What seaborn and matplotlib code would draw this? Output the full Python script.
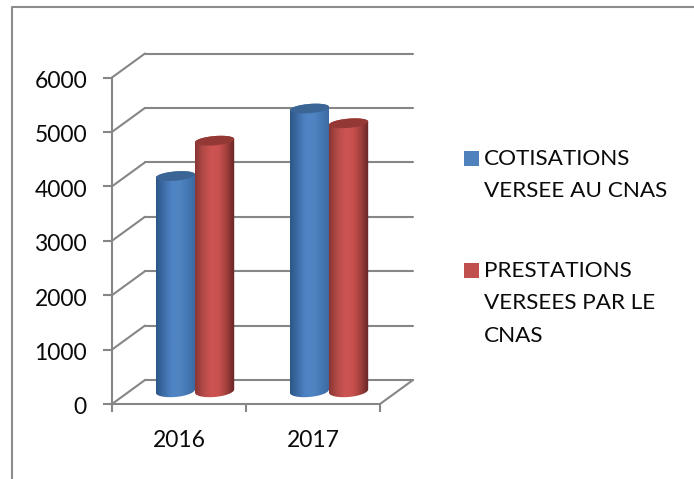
import numpy as np
import pandas as pd
import matplotlib
matplotlib.use("Agg")
import matplotlib.pyplot as plt
from matplotlib.colors import LinearSegmentedColormap
from matplotlib.lines import Line2D
from matplotlib.patches import Polygon, Rectangle
from matplotlib.transforms import ScaledTranslation
import seaborn as sns

years = ["2016", "2017"]
cotisations = [3950, 5190]
prestations = [4600, 4920]
series_names = ["COTISATIONS VERSEE AU CNAS", "PRESTATIONS VERSEES PAR LE CNAS"]
y_ticks = [0, 1000, 2000, 3000, 4000, 5000, 6000]

W, H = 694, 479
GRAY = "#868686"
FONT = "Lato"
BLUE = "#4f81bd"
RED = "#c0504d"

sns.set_style("white")
plt.rcParams["font.family"] = [FONT, "DejaVu Sans"]
plt.rcParams["text.color"] = "#0a0a0a"
plt.rcParams["xtick.labelcolor"] = "#0a0a0a"
plt.rcParams["ytick.labelcolor"] = "#0a0a0a"

df = pd.DataFrame({
    "annee": years * 2,
    "valeur": cotisations + prestations,
    "serie": [series_names[0]] * 2 + [series_names[1]] * 2,
})


def px_axes(fig, left, right, top, bottom):
    return fig.add_axes([left / W, 1 - bottom / H, (right - left) / W, (bottom - top) / H])


fig = plt.figure(figsize=(W / 100, H / 100), dpi=100)

# front plane holds the axis, ticks and the walls of the fake 3d box
front = px_axes(fig, 112, 380, 77.5, 404)
front.set_xlim(-0.5, 1.5)
front.set_ylim(0, 6000)
front.patch.set_visible(False)
dx = 33 / 134
dy = 24 / (326.5 / 6000)
for v in y_ticks:
    front.plot([-0.5, -0.5 + dx], [v, v + dy], color=GRAY, lw=1.5, clip_on=False, zorder=1)
    front.plot([-0.5 + dx, 1.5 + dx], [v + dy, v + dy], color=GRAY, lw=1.5, clip_on=False, zorder=1)
front.plot([1.5, 1.5 + dx], [0, dy], color=GRAY, lw=1.5, clip_on=False, zorder=1)
front.set_yticks(y_ticks)
front.set_xticks([-0.5, 0.5, 1.5])
front.set_xticks([0, 1], labels=years, minor=True)
front.set_xticklabels([])
front.tick_params(axis="y", left=True, length=6.5, width=1.5, color=GRAY, pad=11.5, labelsize=16.5)
front.tick_params(axis="x", which="major", bottom=True, length=6, width=1.5, color=GRAY)
front.tick_params(axis="x", which="minor", bottom=False, pad=17, labelsize=16.5)
for label in front.get_yticklabels():
    label.set_transform(label.get_transform() + ScaledTranslation(0, -2 / 100, fig.dpi_scale_trans))
for name in ["top", "right"]:
    front.spines[name].set_visible(False)
for name in ["left", "bottom"]:
    front.spines[name].set_color(GRAY)
    front.spines[name].set_linewidth(1.5)

# bars sit half way into the box
ax = px_axes(fig, 128, 396, 64.5, 391)
sns.barplot(data=df, x="annee", y="valeur", hue="serie", palette=[BLUE, RED],
            width=0.585, gap=0, legend=False, ax=ax)
ax.set_xlim(-0.5, 1.5)
ax.set_ylim(0, 6000)
ax.patch.set_visible(False)
ax.axis("off")

shades = [
    (["#2c5788", "#3f6fa9", "#4f84c4", "#4f84c2", "#4477b4", "#3a6a9f"], "#3b6595"),
    (["#8a3634", "#b34a47", "#cc5452", "#c9514f", "#a13f3d", "#642624"], "#943835"),
]
theta = np.linspace(0, np.pi, 40)
cap_b, base_b, tilt = 85, 110, 30
for container, (stops, cap_color) in zip(ax.containers, shades):
    cmap = LinearSegmentedColormap.from_list("cyl", stops)
    for bar in container:
        bar.set_visible(False)
        x0, w, h = bar.get_x(), bar.get_width(), bar.get_height()
        cx = x0 + w / 2
        xs = cx + w / 2 * np.cos(theta)      # right to left
        shear = tilt * np.cos(theta)
        sin = np.sin(theta)
        top_upper = np.column_stack([xs, h + cap_b * sin + shear])
        top_lower = np.column_stack([xs[::-1], (h - cap_b * sin + shear)[::-1]])
        base_lower = np.column_stack([xs[::-1], (-base_b * sin + shear)[::-1]])
        body = Polygon(np.vstack([base_lower, top_upper]), closed=True, fc="none", ec="none",
                       clip_on=False, transform=ax.transData)
        ax.add_patch(body)
        img = ax.imshow(np.linspace(0, 1, 64).reshape(1, -1), cmap=cmap, aspect="auto",
                        extent=[x0, x0 + w, -200, h + 200], zorder=3)
        img.set_clip_box(fig.bbox)
        img.set_clip_path(body)
        ax.add_patch(Polygon(np.vstack([top_upper, top_lower]), closed=True, fc=cap_color,
                             ec="none", zorder=3.1, clip_on=False))
ax.set_xlim(-0.5, 1.5)
ax.set_ylim(0, 6000)

# outer frame, cropped by the picture on the right and bottom
fig.add_artist(Line2D([12 / W, 12 / W, 1], [0, 1 - 7 / H, 1 - 7 / H], color="#8c8c8c", lw=1.5))

# legend
legend_items = [
    (151, BLUE, "COTISATIONS\nVERSEE AU CNAS", 149),
    (263, RED, "PRESTATIONS\nVERSEES PAR LE\nCNAS", 261),
]
for box_y, color, label, text_y in legend_items:
    fig.add_artist(Rectangle((463.5 / W, 1 - (box_y + 15) / H), 15 / W, 15 / H, fc=color, ec="none",
                             transform=fig.transFigure))
    fig.text(484 / W, 1 - text_y / H, label, fontsize=16.2, va="top", ha="left", linespacing=1.78)

fig.savefig("out.png", dpi=100)
